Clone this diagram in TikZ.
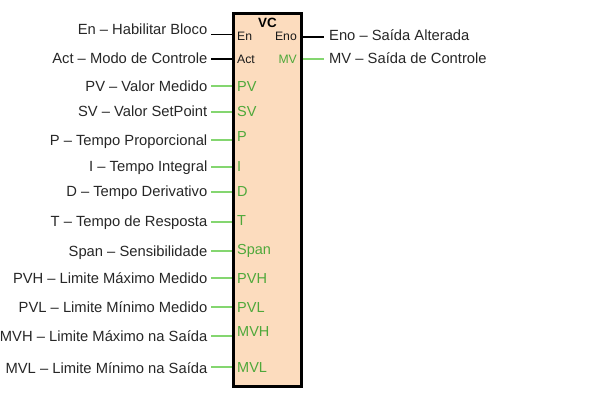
\documentclass[tikz,border=0pt]{standalone}
\usepackage{fontspec}
\setmainfont{Liberation Sans}
\definecolor{peach}{RGB}{252,220,190}
\definecolor{pintext}{RGB}{78,168,58}
\definecolor{pinline}{RGB}{132,214,112}
\begin{document}
\begin{tikzpicture}[x=1pt,y=-1pt,
  lbl/.style={font=\fontsize{14.75}{16}\selectfont,inner sep=0pt,text=black!85},
  pinlbl/.style={font=\fontsize{14.5}{16}\selectfont,inner sep=0pt,text=pintext,anchor=base west},
  smallpin/.style={font=\fontsize{12.2}{14}\selectfont,inner sep=0pt,text=black!90},
  smallgreen/.style={font=\fontsize{12.2}{14}\selectfont,inner sep=0pt,text=pintext},
  blk/.style={line width=1.5pt,black},
  grn/.style={line width=1.5pt,pinline}]
\useasboundingbox (0,0) rectangle (600,400);
\node[draw=black,line width=2.5pt,fill=peach,minimum width=68pt,minimum height=373pt,inner sep=0pt] (vc) at (267.5,200) {};
\node[font=\fontsize{13.4}{15}\selectfont\bfseries,inner sep=0pt,anchor=base] (title) at (267.5,27.7) {VC};
% pin labels inside
\node[smallpin,anchor=base west] (pEn) at (237,40.8) {En};
\node[smallpin,anchor=base east] (pEno) at (297,40.8) {Eno};
\node[smallpin,anchor=base west] (pAct) at (237,63.3) {Act};
\node[smallgreen,anchor=base east] (pMV) at (297,63.3) {MV};
\node[pinlbl] (pPV) at (237,91.7) {PV};
\node[pinlbl] (pSV) at (237,116.7) {SV};
\node[pinlbl] (pP) at (237,141.2) {P};
\node[pinlbl] (pI) at (237,171.2) {I};
\node[pinlbl] (pD) at (237,196.7) {D};
\node[pinlbl] (pT) at (237,225.7) {T};
\node[pinlbl] (pSpan) at (237,254.7) {Span};
\node[pinlbl] (pPVH) at (237,283.2) {PVH};
\node[pinlbl] (pPVL) at (237,312.2) {PVL};
\node[pinlbl] (pMVH) at (237,336.7) {MVH};
\node[pinlbl] (pMVL) at (237,372.7) {MVL};
% outer labels left
\foreach \nm/\txt/\by in {En/{En – Habilitar Bloco}/34.5,
  Act/{Act – Modo de Controle}/63.3,
  PV/{PV – Valor Medido}/91.2,
  SV/{SV – Valor SetPoint}/116.7,
  P/{P – Tempo Proporcional}/145.2,
  I/{I – Tempo Integral}/171.2,
  D/{D – Tempo Derivativo}/196.7,
  T/{T – Tempo de Resposta}/226.7,
  Span/{Span – Sensibilidade}/256.2,
  PVH/{PVH – Limite Máximo Medido}/283.2,
  PVL/{PVL – Limite Mínimo Medido}/312.2,
  MVH/{MVH – Limite Máximo na Saída}/341.2,
  MVL/{MVL – Limite Mínimo na Saída}/373.2}
  {\node[lbl,anchor=base east] (l\nm) at (207.5,\by) {\txt};}
% left connectors
\foreach \nm/\ly/\st in {En/34.5/blk, Act/59/blk, PV/86/grn, SV/112/grn, P/140/grn, I/167/grn, D/192/grn, T/222/grn, Span/251/grn, PVH/278/grn, PVL/307/grn, MVH/336/grn, MVL/367/grn}
  {\coordinate (c\nm) at (211,\ly);
   \draw[\st] (c\nm) -- (c\nm -| vc.west);}
% right labels
\node[lbl,anchor=base west] (rEno) at (329,40) {Eno – Saída Alterada};
\node[lbl,anchor=base west] (rMV) at (329,63.3) {MV – Saída de Controle};
\coordinate (cEno) at (324,37);
\coordinate (cMV) at (324,59);
\draw[blk] (vc.east |- cEno) -- (cEno);
\draw[grn] (vc.east |- cMV) -- (cMV);
\end{tikzpicture}
\end{document}
